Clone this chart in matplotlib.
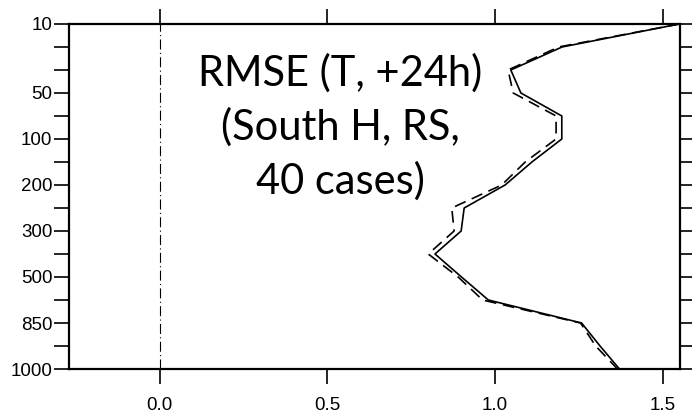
import matplotlib
matplotlib.use("Agg")
import matplotlib.pyplot as plt
import numpy as np

# pressure levels (hPa), plotted on an even index axis
levels = [10, 20, 30, 50, 70, 100, 150, 200, 250, 300, 400, 500, 700, 850, 925, 1000]
labeled = [10, 50, 100, 200, 300, 500, 850, 1000]

# RMSE of temperature at +24h
rmse_solid = [1.55, 1.20, 1.047, 1.077, 1.199, 1.199, 1.11, 1.03, 0.908, 0.899,
              0.821, 0.90, 0.980, 1.258, 1.313, 1.371]
rmse_dashed = [1.55, 1.19, 1.039, 1.054, 1.182, 1.182, 1.09, 1.02, 0.871, 0.878,
               0.801, 0.89, 0.963, 1.255, 1.300, 1.365]

xticks = [0.0, 0.5, 1.0, 1.5]

y = np.arange(len(levels))

fig = plt.figure(figsize=(6.92, 4.13), dpi=100)
ax = fig.add_axes([0.0997, 0.1065, 0.8823, 0.8355])

ax.axvline(0.0, color='black', lw=0.8, linestyle=(0, (9, 3, 1, 3)))
ax.plot(rmse_solid, y, color='black', lw=1.2)
ax.plot(rmse_dashed, y, color='black', lw=1.2, linestyle=(0, (7, 4)))

ax.set_xlim(-0.27, 1.55)
ax.set_ylim(len(levels) - 1, 0)

ax.set_xticks(xticks)
ax.set_xticklabels([f"{v:.1f}" for v in xticks], family='Liberation Sans', fontsize=13.5)
ax.set_yticks(y)
ax.set_yticklabels([str(p) if p in labeled else '' for p in levels],
                   family='Liberation Sans', fontsize=13.5)

ax.tick_params(axis='both', direction='out', length=11, width=1.2, color='black')
ax.tick_params(axis='x', top=True, bottom=True, pad=9)
ax.tick_params(axis='y', left=True, right=True, pad=1)

for s in ax.spines.values():
    s.set_linewidth(1.6)

ax.text(0.444, 0.70, "RMSE (T, +24h)\n(South H, RS,\n40 cases)", transform=ax.transAxes,
        ha='center', va='center', fontsize=30, family='Lato', linespacing=1.45)

fig.savefig('out.png', dpi=100)
